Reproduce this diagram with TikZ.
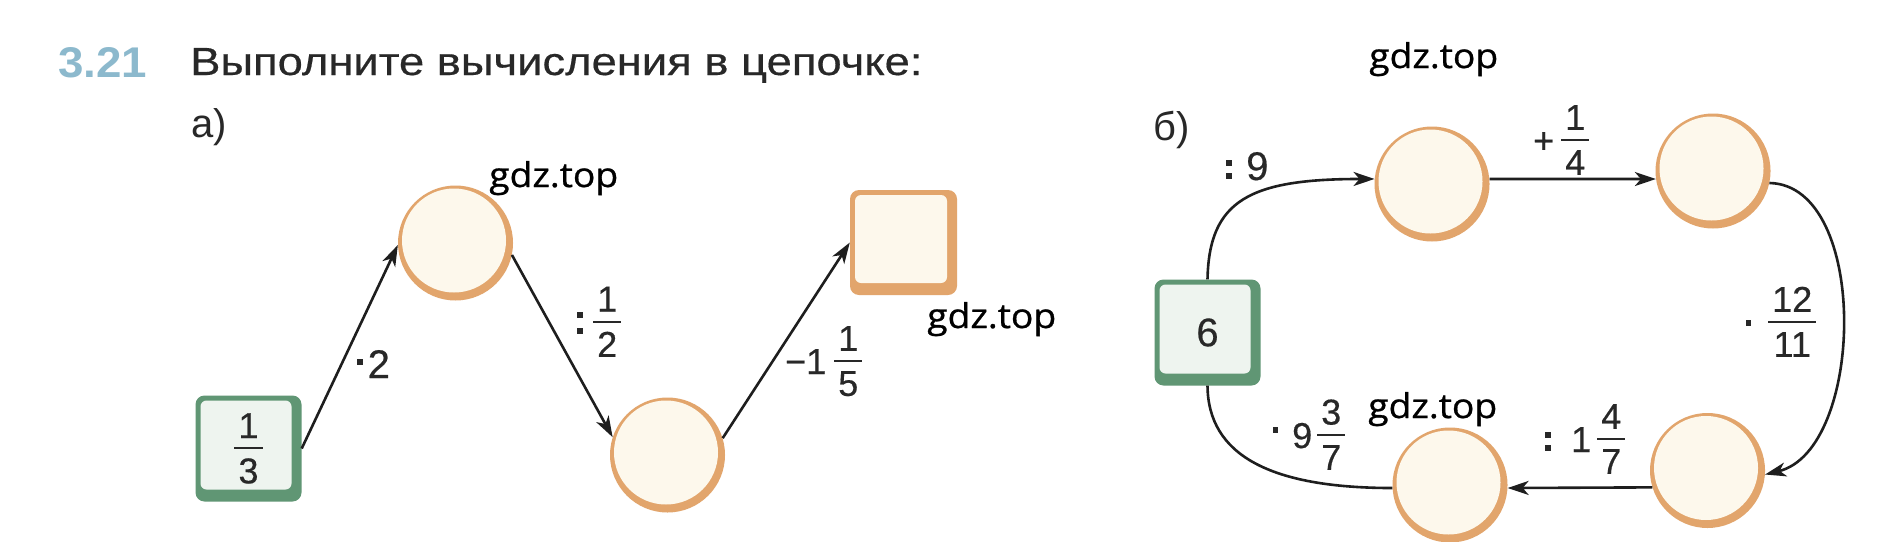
\documentclass[tikz,border=0pt]{standalone}
\usepackage{fontspec}
\usepackage{graphicx}
\setmainfont{Liberation Sans}
\newfontface\wmfont[FakeBold=0.8]{Open Sans}
\newfontface\labfont[FakeBold=0.4]{Liberation Sans}
\usetikzlibrary{arrows.meta}
\definecolor{orB}{RGB}{226,165,108}
\definecolor{crm}{RGB}{253,248,236}
\definecolor{grB}{RGB}{96,150,116}
\definecolor{grL}{RGB}{238,244,239}
\definecolor{txt}{RGB}{40,40,40}
\definecolor{numC}{RGB}{140,185,205}
\definecolor{lineC}{RGB}{30,30,30}
\newcommand\fr[2]{\setbox0=\vbox{\offinterlineskip\halign{\hfil##\hfil\cr\hspace{4pt}#1\hspace{4pt}\cr\noalign{\vskip9pt\hrule height2.2pt\vskip9pt}#2\cr}}\raisebox{\dimexpr13pt-\fontcharht\font`0-10.1pt\relax}{\box0}}
\newcommand\mdot[1][12pt]{\rule[#1]{5.5pt}{5.5pt}}
\newcommand\mcol[1][14pt]{\rule[1pt]{6pt}{6pt}\llap{\rule[#1]{6pt}{6pt}}}
\newcommand\bignum[1]{{\fontsize{40pt}{48pt}\selectfont #1}}
\begin{document}
\begin{tikzpicture}[x=1pt,y=-1pt,
  ball/.style={circle, minimum size=115pt, inner sep=0pt, fill=orB,
    path picture={\fill[crm] ([shift={(-1.5pt,2.5pt)}]path picture bounding box.center) circle (52pt);}},
  gbox/.style={rectangle, rounded corners=9pt, minimum width=106pt, minimum height=106pt, inner sep=0pt, fill=grB,
    path picture={\fill[grL, rounded corners=6pt] ([shift={(5pt,-5pt)}]path picture bounding box.north west) rectangle ([shift={(-10pt,12pt)}]path picture bounding box.south east);},
    font=\labfont\fontsize{36pt}{43pt}\selectfont, text=txt},
  obox/.style={rectangle, rounded corners=9pt, minimum width=107pt, minimum height=105pt, inner sep=0pt, fill=orB,
    path picture={\fill[crm, rounded corners=6pt] ([shift={(5pt,-5pt)}]path picture bounding box.north west) rectangle ([shift={(-10pt,12pt)}]path picture bounding box.south east);}},
  lab/.style={anchor=base west, inner sep=0pt, font=\labfont\fontsize{36pt}{43pt}\selectfont, text=txt},
  wm/.style={anchor=base west, inner sep=0pt, text=black},
  conn/.style={line width=2.6pt, draw=lineC, -{Stealth[length=21pt,width=14pt,inset=6pt]}},
  plain/.style={line width=2.6pt, draw=lineC}
]
\fill[white] (0,0) rectangle (1878,541);
\useasboundingbox (0,0) rectangle (1878,541);

% header
\node[anchor=base west, inner sep=0pt, text=numC] (num) at (58,77) {\resizebox{89pt}{30pt}{\bfseries 3.21}};
\node[anchor=base west, inner sep=0pt, text=txt] (title) at (190,75) {\resizebox{732pt}{27pt}{\labfont Выполните вычисления в цепочке:}};
\node[lab, font=\fontsize{40pt}{48pt}\selectfont] (pa) at (191,137) {а)};
\node[lab, font=\fontsize{40pt}{48pt}\selectfont] (pb) at (1153,140) {б)};

% part a
\node[gbox] (b13) at (248.5,448.5) {\fr{1}{3}};
\node[ball] (c1) at (455.5,243) {};
\node[ball] (c2) at (667.5,455) {};
\node[obox] (sq) at (903.5,242.5) {};

\draw[conn] (b13.east) -- (c1.182);
\draw[conn] (c1.-12) -- (c2.162);
\draw[conn] (c2.17) -- (sq.west);

\node[lab] (la1) at (357,378) {\mdot[13.5pt]\hspace{5pt}\bignum{2}};
\node[lab] (la2) at (577,335) {\mcol[17pt]\hspace{10pt}\fr{1}{2}};
\node[lab] (la3) at (785,374) {−1\hspace{8pt}\fr{1}{5}};

% part b
\node[gbox, font=\labfont\fontsize{40pt}{48pt}\selectfont] (b6) at (1207.5,332.5) {6};
\node[ball] (b1) at (1432,184) {};
\node[ball] (b2) at (1713,171) {};
\node[ball] (b3) at (1707.5,470.5) {};
\node[ball] (b4) at (1450,485) {};

\draw[conn] (b6.north) .. controls (1209,200) and (1250,179) .. (b1.175);
\draw[conn] (b1.5) -- (b2.188);
\draw[conn] (b2.-12) .. controls (1870,185) and (1865,450) .. (b3.-4);
\draw[conn] (b3.197) -- (b4.-3);
\draw[plain] (b4.183) .. controls (1270,488) and (1208,455) .. (b6.south);

\node[lab] (lb1) at (1226,180) {\mcol\hspace{14pt}\bignum{9}};
\node[lab] (lb2) at (1533,153) {+\hspace{7pt}\fr{1}{4}};
\node[lab] (lb3) at (1745.5,335) {\mdot[9.5pt]\hspace{17pt}\fr{12}{11}};
\node[lab] (lb4) at (1545,452) {\mcol\hspace{20pt}1\hspace{6pt}\fr{4}{7}};
\node[lab] (lb5) at (1272.5,448) {\mdot[15.5pt]\hspace{14pt}9\hspace{5pt}\fr{3}{7}};

% watermarks
\node[wm] (w1) at (489,187) {\resizebox{129pt}{26pt}{\wmfont gdz.top}};
\node[wm] (w2) at (927,328) {\resizebox{129pt}{26pt}{\wmfont gdz.top}};
\node[wm] (w3) at (1369,68) {\resizebox{129pt}{26pt}{\wmfont gdz.top}};
\node[wm] (w4) at (1368,418) {\resizebox{129pt}{26pt}{\wmfont gdz.top}};
\end{tikzpicture}
\end{document}
